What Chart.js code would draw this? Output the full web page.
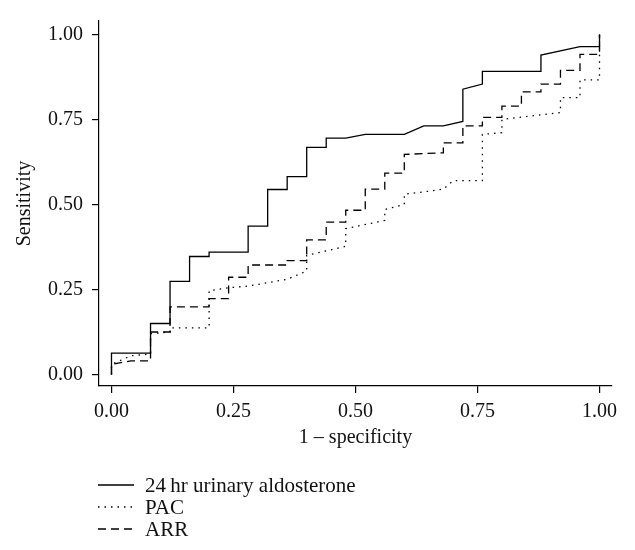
<!DOCTYPE html>
<html>
<head>
  <meta charset="UTF-8">
  <title>ROC curves</title>
  <script src="https://cdn.jsdelivr.net/npm/chart.js"></script>
  <style>
    body { margin: 0; background: #fff; }
  </style>
</head>
<body>
    <canvas id="rocChart" width="635" height="550"></canvas>
    <script>
        // x = 1 - specificity, y = sensitivity
        var urineX = [0, 0, 0.08, 0.08, 0.12, 0.12, 0.16, 0.16, 0.20, 0.20, 0.28, 0.28, 0.32, 0.32, 0.36, 0.36, 0.40, 0.40, 0.44, 0.44,
                      0.48, 0.52, 0.60, 0.64, 0.68, 0.72, 0.72, 0.76, 0.76, 0.88, 0.88, 0.96, 1.00, 1.00];
        var urineY = [0, 0.063, 0.063, 0.15, 0.15, 0.274, 0.274, 0.347, 0.347, 0.36, 0.36, 0.436, 0.436, 0.544, 0.544, 0.582, 0.582, 0.668, 0.668, 0.695,
                      0.695, 0.706, 0.706, 0.731, 0.731, 0.744, 0.839, 0.854, 0.891, 0.891, 0.939, 0.964, 0.964, 1.0];

        var pacX = [0, 0, 0.04, 0.08, 0.08, 0.12, 0.12, 0.20, 0.20, 0.24, 0.28, 0.32, 0.36, 0.40, 0.40, 0.48, 0.48, 0.56, 0.56, 0.60,
                    0.60, 0.64, 0.68, 0.70, 0.76, 0.76, 0.80, 0.80, 0.92, 0.92, 0.96, 0.96, 1.00, 1.00];
        var pacY = [0, 0.03, 0.055, 0.06, 0.12, 0.125, 0.137, 0.137, 0.246, 0.255, 0.26, 0.27, 0.28, 0.304, 0.35, 0.377, 0.429, 0.453, 0.485, 0.50,
                    0.53, 0.537, 0.545, 0.57, 0.57, 0.706, 0.711, 0.75, 0.77, 0.814, 0.814, 0.866, 0.866, 1.0];

        var arrX = [0, 0, 0.04, 0.08, 0.08, 0.12, 0.12, 0.20, 0.20, 0.24, 0.24, 0.28, 0.28, 0.36, 0.36, 0.40, 0.40, 0.44, 0.44, 0.48,
                    0.48, 0.52, 0.52, 0.56, 0.56, 0.60, 0.60, 0.68, 0.68, 0.72, 0.72, 0.76, 0.76, 0.80, 0.80, 0.84, 0.84, 0.88, 0.88, 0.92,
                    0.92, 0.96, 0.96, 1.00, 1.00];
        var arrY = [0, 0.03, 0.04, 0.04, 0.125, 0.125, 0.199, 0.199, 0.223, 0.223, 0.286, 0.286, 0.322, 0.322, 0.335, 0.335, 0.396, 0.396, 0.448, 0.448,
                    0.483, 0.483, 0.545, 0.545, 0.592, 0.592, 0.647, 0.652, 0.681, 0.681, 0.731, 0.731, 0.756, 0.756, 0.789, 0.789, 0.831, 0.831, 0.854, 0.854,
                    0.894, 0.894, 0.941, 0.941, 1.0];

        var tickValues = [0, 0.25, 0.5, 0.75, 1];
        var seriesNames = ['24\u2009hr urinary aldosterone', 'PAC', 'ARR'];

        var FONT = "'Liberation Serif', 'DejaVu Serif', serif";

        function toPoints(xs, ys) {
            return xs.map(function(x, i) { return { x: x, y: ys[i] }; });
        }

        function lineSet(label, pts, dash) {
            return {
                label: label,
                data: pts,
                showLine: true,
                borderColor: '#000',
                borderWidth: 1.3,
                borderDash: dash,
                pointRadius: 0,
                fill: false,
                tension: 0
            };
        }

        // legend drawn by hand under the axis title, left aligned
        var legendPlugin = {
            id: 'stackLegend',
            afterDraw: function(chart) {
                var ctx = chart.ctx;
                var rows = [485, 507, 529];
                ctx.save();
                chart.data.datasets.forEach(function(ds, i) {
                    ctx.beginPath();
                    ctx.strokeStyle = '#000';
                    ctx.lineWidth = 1.3;
                    ctx.setLineDash(ds.borderDash || []);
                    ctx.moveTo(98, rows[i]);
                    ctx.lineTo(134, rows[i]);
                    ctx.stroke();
                    ctx.setLineDash([]);
                    ctx.fillStyle = '#111';
                    ctx.font = '21px ' + FONT;
                    ctx.textBaseline = 'middle';
                    ctx.fillText(ds.label, 145, rows[i] + 1);
                });
                ctx.restore();
            }
        };

        var ctx = document.getElementById('rocChart').getContext('2d');
        new Chart(ctx, {
            type: 'scatter',
            data: {
                datasets: [
                    lineSet(seriesNames[0], toPoints(urineX, urineY), []),
                    lineSet(seriesNames[1], toPoints(pacX, pacY), [1.5, 5]),
                    lineSet(seriesNames[2], toPoints(arrX, arrY), [8, 5])
                ]
            },
            options: {
                responsive: false,
                animation: false,
                layout: { padding: { left: 0, top: 5, right: 23, bottom: 94 } },
                scales: {
                    x: {
                        type: 'linear',
                        min: -0.0256,
                        max: 1.0256,
                        afterBuildTicks: function(s) { s.ticks = tickValues.map(function(v) { return { value: v }; }); },
                        afterFit: function(s) { s.height = 70; },
                        grid: { drawOnChartArea: false, tickLength: 7, color: '#000', lineWidth: 1.2 },
                        border: { display: true, color: '#000', width: 1.2 },
                        ticks: {
                            color: '#111',
                            padding: 7,
                            maxRotation: 0,
                            font: { family: FONT, size: 20 },
                            callback: function(v) { return v.toFixed(2); }
                        },
                        title: {
                            display: true,
                            text: '1 \u2013 specificity',
                            color: '#111',
                            font: { family: FONT, size: 20 },
                            padding: { top: 0, bottom: 6 }
                        }
                    },
                    y: {
                        type: 'linear',
                        min: -0.0338,
                        max: 1.0394,
                        afterBuildTicks: function(s) { s.ticks = tickValues.map(function(v) { return { value: v }; }); },
                        afterFit: function(s) { s.width = 99; },
                        grid: { drawOnChartArea: false, tickLength: 7, color: '#000', lineWidth: 1.2 },
                        border: { display: true, color: '#000', width: 1.2 },
                        ticks: {
                            color: '#111',
                            padding: 9,
                            font: { family: FONT, size: 20 },
                            callback: function(v) { return v.toFixed(2); }
                        },
                        title: {
                            display: true,
                            text: 'Sensitivity',
                            color: '#111',
                            font: { family: FONT, size: 20 },
                            padding: { top: 13, bottom: 0 }
                        }
                    }
                },
                plugins: {
                    legend: { display: false },
                    tooltip: { enabled: false }
                }
            },
            plugins: [legendPlugin]
        });
    </script>
</body>
</html>
